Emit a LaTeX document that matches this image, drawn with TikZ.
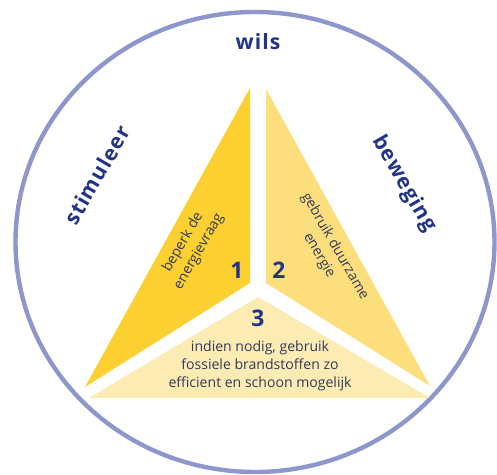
\documentclass[tikz,border=0pt]{standalone}
\usepackage{fontspec}
\setmainfont{Open Sans}
\newfontfamily\titelfont[LetterSpace=5]{Open Sans}
\definecolor{ring}{RGB}{142,151,203}
\definecolor{navy}{RGB}{33,52,135}
\definecolor{inktext}{RGB}{52,58,92}
\definecolor{geel1}{RGB}{251,208,48}
\definecolor{geel2}{RGB}{252,222,124}
\definecolor{geel3}{RGB}{252,235,178}

\begin{document}
\begin{tikzpicture}[x=0.02cm, y=-0.02cm, thick,
    title/.style={text=navy, font=\titelfont\fontsize{12}{14}\selectfont\bfseries},
    num/.style={text=navy, font=\fontsize{13}{15}\selectfont\bfseries},
    inner/.style={text=inktext, align=center, inner sep=0pt,
      font=\fontsize{8}{10.4}\selectfont}]
      \useasboundingbox (0,0) rectangle (497,475);

      % outer ring
      \draw [ring, line width=2.5pt] (255,242) ellipse [x radius=239.5, y radius=230];

      % the three parts of the triangle
      \fill [geel1] (250,88) -- (250,283) -- (85,387) -- cycle;
      \fill [geel2] (266,89) -- (266,283) -- (430,386) -- cycle;
      \fill [geel3] (258,297) -- (430,398) -- (89,398) -- cycle;

      \node at (258,42) [title, name=wils] {wils};
      \node at (97,175) [title, rotate=60, name=stimuleer] {stimuleer};
      \node at (404,184) [title, rotate=-60, name=beweging] {beweging};

      \node at (191,247) [inner, rotate=60, name=beperk]
      {beperk de\\energievraag};
      \node at (327,251) [inner, rotate=-60, name=duurzaam]
      {gebruik duurzame\\energie};
      \node at (260,366) [inner, name=fossiel]
      {indien nodig, gebruik\\fossiele brandstoffen zo\\efficient en schoon mogelijk};

      \node at (237,270) [num, name=een] {1};
      \node at (279,270) [num, name=twee] {2};
      \node at (258,318) [num, name=drie] {3};
    \end{tikzpicture}
\end{document}
